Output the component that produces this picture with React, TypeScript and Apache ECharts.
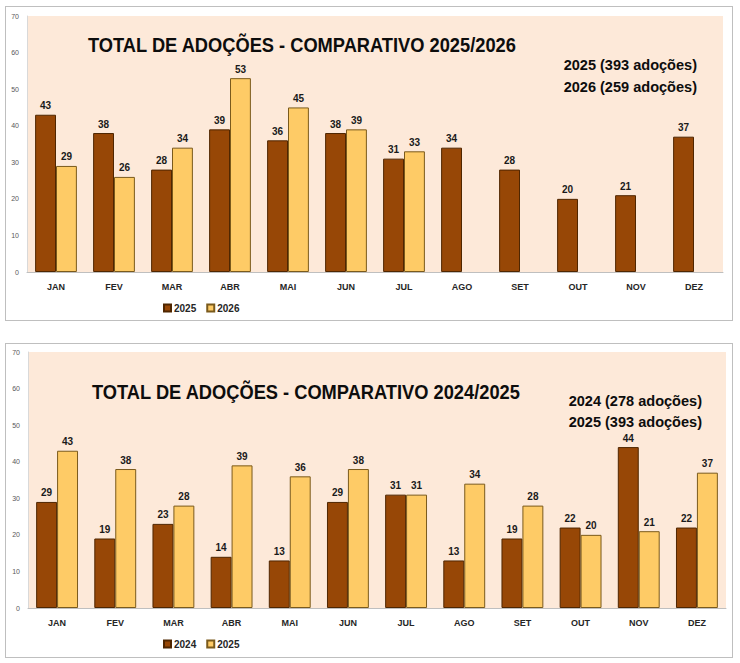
import React, { useEffect, useRef } from "react";
import * as echarts from "echarts";

const months = ["JAN", "FEV", "MAR", "ABR", "MAI", "JUN", "JUL", "AGO", "SET", "OUT", "NOV", "DEZ"];
const adoptions2024 = [29, 19, 23, 14, 13, 29, 31, 13, 19, 22, 44, 22];
const adoptions2025 = [43, 38, 28, 39, 36, 38, 31, 34, 28, 20, 21, 37];
const adoptions2026 = [29, 26, 34, 53, 45, 39, 33, null, null, null, null, null];
const yMin = 0;
const yMax = 70;
const yInterval = 10;

const titleTop = "TOTAL DE ADOÇÕES - COMPARATIVO 2025/2026";
const subTop = ["2025 (393 adoções)", "2026 (259 adoções)"];
const titleBottom = "TOTAL DE ADOÇÕES - COMPARATIVO 2024/2025";
const subBottom = ["2024 (278 adoções)", "2025 (393 adoções)"];

const DARK = "#974706";
const LIGHT = "#fecb66";
const BG = "#fde9d9";
const FONT = "'Liberation Sans', Arial, sans-serif";

type Cfg = {
  gridLeft: number;
  gridTop: number;
  gridWidth: number;
  title: string;
  titleX: number;
  titleY: number;
  sub: string[];
  subRight: number;
  subY: number[];
  legendTop: number;
  names: string[];
  data: (number | null)[][];
};

function makeOption(c: Cfg): any {
  const texts: any[] = [
    {
      type: "text",
      x: c.titleX,
      y: c.titleY,
      scaleX: 0.87,
      style: {
        text: c.title,
        fontSize: 21,
        fontWeight: "bold",
        fontFamily: FONT,
        fill: "#0d0d0d",
        align: "left",
        verticalAlign: "middle",
        textAlign: "left",
        textVerticalAlign: "middle",
      },
    },
  ];
  c.sub.forEach((s, i) => {
    texts.push({
      type: "text",
      x: c.subRight,
      y: c.subY[i],
      scaleX: 0.97,
      style: {
        text: s,
        fontSize: 15,
        fontWeight: "bold",
        fontFamily: FONT,
        fill: "#0d0d0d",
        align: "right",
        verticalAlign: "middle",
        textAlign: "right",
        textVerticalAlign: "middle",
      },
    });
  });
  const label = {
    show: true,
    position: "top",
    distance: 4,
    fontSize: 10,
    fontWeight: "bold",
    fontFamily: FONT,
    color: "#1a1a1a",
  };
  return {
    animation: false,
    grid: {
      left: c.gridLeft,
      top: c.gridTop,
      width: c.gridWidth,
      height: 256,
      show: true,
      backgroundColor: BG,
      borderWidth: 0,
    },
    legend: {
      left: 163,
      top: c.legendTop,
      padding: 0,
      itemWidth: 7,
      itemHeight: 7,
      itemGap: 10,
      icon: "rect",
      textStyle: { fontSize: 10, fontWeight: "bold", fontFamily: FONT, color: "#262626", padding: [0, 0, 0, -2] },
      data: c.names,
    },
    xAxis: {
      type: "category",
      data: months,
      axisLine: { show: true, lineStyle: { color: "#bfbfbf", width: 1 } },
      axisTick: { show: false },
      axisLabel: { margin: 10, fontSize: 9, fontWeight: "bold", fontFamily: FONT, color: "#262626" },
    },
    yAxis: {
      type: "value",
      min: yMin,
      max: yMax,
      interval: yInterval,
      splitLine: { show: false },
      axisLine: { show: true, lineStyle: { color: "#d9d9d9", width: 1 } },
      axisTick: { show: false },
      axisLabel: { margin: 8, fontSize: 7, fontFamily: FONT, color: "#595959" },
    },
    series: [
      {
        name: c.names[0],
        type: "bar",
        data: c.data[0],
        barWidth: "36%",
        barGap: "0%",
        itemStyle: { color: DARK, borderColor: "#4f2600", borderWidth: 1 },
        label,
      },
      {
        name: c.names[1],
        type: "bar",
        data: c.data[1],
        barWidth: "36%",
        barGap: "0%",
        itemStyle: { color: LIGHT, borderColor: "#7a5a1c", borderWidth: 1 },
        label,
      },
    ],
    graphic: texts,
  };
}

function Chart({ cfg, style }: { cfg: Cfg; style: React.CSSProperties }) {
  const ref = useRef<HTMLDivElement>(null);
  useEffect(() => {
    if (!ref.current) return;
    const chart = echarts.init(ref.current, null, { renderer: "svg" });
    chart.setOption(makeOption(cfg));
    return () => chart.dispose();
  }, []);
  return <div ref={ref} style={style} />;
}

const topCfg: Cfg = {
  gridLeft: 27,
  gridTop: 16,
  gridWidth: 696,
  title: titleTop,
  titleX: 88,
  titleY: 45,
  sub: subTop,
  subRight: 697,
  subY: [65, 87],
  legendTop: 303,
  names: ["2025", "2026"],
  data: [adoptions2025, adoptions2026],
};

const bottomCfg: Cfg = {
  gridLeft: 28,
  gridTop: 21,
  gridWidth: 698,
  title: titleBottom,
  titleX: 92,
  titleY: 61,
  sub: subBottom,
  subRight: 702,
  subY: [70, 91],
  legendTop: 308,
  names: ["2024", "2025"],
  data: [adoptions2024, adoptions2025],
};

export default function App() {
  const borderStyle: React.CSSProperties = {
    position: "absolute",
    left: 5,
    width: 728,
    height: 315,
    border: "1px solid #bfbfbf",
    boxSizing: "border-box",
    background: "#ffffff",
  };
  return (
    <div style={{ position: "absolute", left: 0, top: 0, width: 740, height: 663, background: "#ffffff" }}>
      <div style={{ ...borderStyle, top: 6 }} />
      <div style={{ ...borderStyle, top: 343 }} />
      <Chart cfg={topCfg} style={{ position: "absolute", left: 0, top: 0, width: 740, height: 331 }} />
      <Chart cfg={bottomCfg} style={{ position: "absolute", left: 0, top: 331, width: 740, height: 332 }} />
    </div>
  );
}
